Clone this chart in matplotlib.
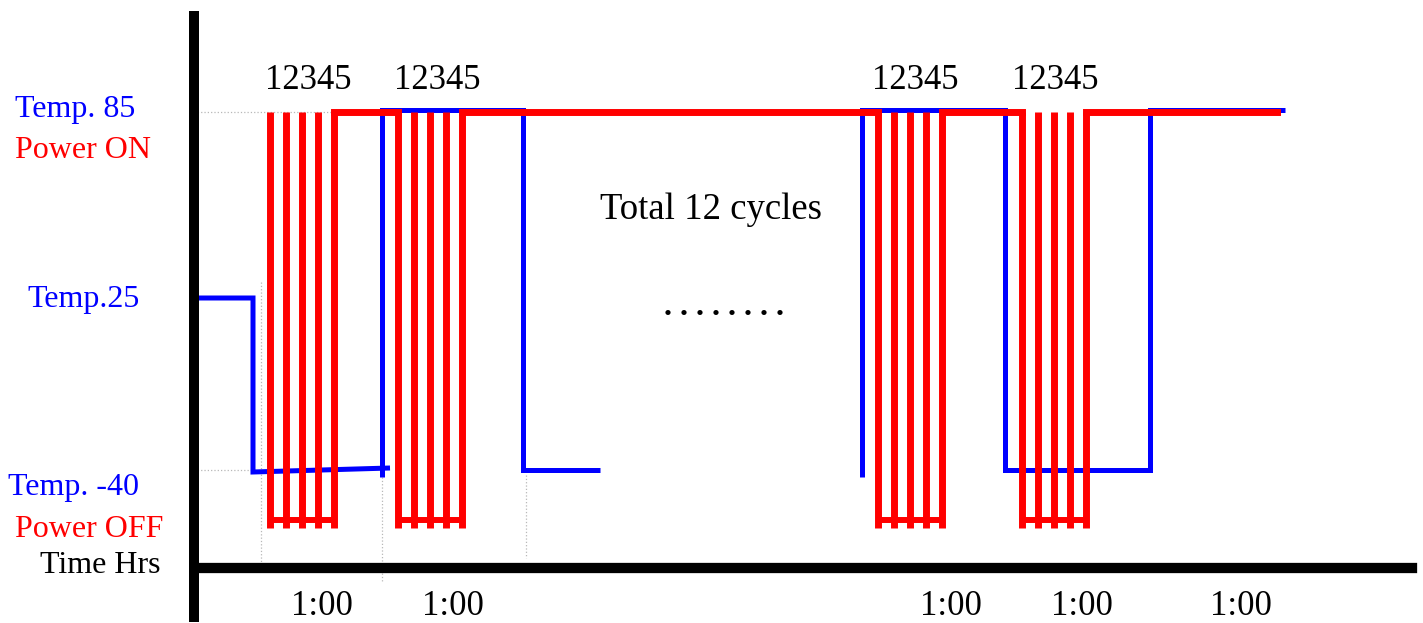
import matplotlib.pyplot as plt

# schematic units: x = time from the y-axis, y = level above the time axis
# blue = chamber temperature, red = power on/off
BLUE_A_X = [0, 59, 59, 196]
BLUE_A_Y = [270, 270, 96, 100]
BLUE_B_X = [188, 188, 329, 329, 406]
BLUE_B_Y = [91, 458, 458, 98, 98]
BLUE_C_X = [668, 668, 811, 811, 956, 956, 1091]
BLUE_C_Y = [91, 458, 458, 98, 98, 458, 458]

PULSES = [
    [76, 92, 108, 124, 140],
    [203.5, 219.5, 235.5, 251.5, 267.5],
    [683.5, 699.5, 715.5, 731.5, 747.5],
    [827.5, 843.5, 859.5, 875.5, 891.5],
]
POWER_ON = 456
POWER_OFF = 48
PULSE_BOTTOM = 40
RED_END = 1083

CYCLE_LABEL_X = [114, 243.5, 721, 861]
HOUR_LABEL_X = [128, 259, 757, 888, 1047]

LEFT_LABELS = [
    ("Temp. 85", -179, 451, "blue"),
    ("Power ON", -179, 410, "red"),
    ("Temp.25", -167, 261, "blue"),
    ("Temp. -40", -186, 73, "blue"),
    ("Power OFF", -179, 31, "red"),
    ("Time Hrs", -154, -5, "black"),
]

# dotted guides: (x0, x1, y0, y1)
GUIDES = [
    (0, 140, 456, 456),
    (0, 58, 98, 98),
    (67, 67, 286, -2),
    (188, 188, 91, -14),
    (332, 332, 93, 10),
]

FONT = ["Liberation Serif", "DejaVu Serif"]

fig = plt.figure(figsize=(14.23, 6.23), dpi=100)
ax = fig.add_axes([0, 0, 1, 1])
ax.set_xlim(-194, 1229)
ax.set_ylim(-55, 568)

for x0, x1, y0, y1 in GUIDES:
    ax.plot([x0, x1], [y0, y1], color="#b8b8b8", lw=0.9, ls=":", zorder=1)

for xs, ys in [(BLUE_A_X, BLUE_A_Y), (BLUE_B_X, BLUE_B_Y), (BLUE_C_X, BLUE_C_Y)]:
    ax.plot(xs, ys, color="#0000ff", lw=3.6, solid_joinstyle="miter",
            solid_capstyle="butt", zorder=2)

for i, group in enumerate(PULSES):
    ax.vlines(group, PULSE_BOTTOM, POWER_ON, color="#ff0000", lw=5, zorder=3)
    ax.hlines(POWER_OFF, group[0], group[-1], color="#ff0000", lw=4.3, zorder=3)
    nxt = PULSES[i + 1][0] if i + 1 < len(PULSES) else RED_END
    ax.hlines(POWER_ON, group[-1], nxt, color="#ff0000", lw=5,
              capstyle="projecting", zorder=3)

ax.spines[["top", "right"]].set_visible(False)
ax.spines["left"].set_position(("data", 0))
ax.spines["bottom"].set_position(("data", 0))
ax.spines["left"].set_bounds(-49, 552)
ax.spines["bottom"].set_bounds(1, 1218)
ax.spines["left"].set_linewidth(7.2)
ax.spines["bottom"].set_linewidth(7.4)
ax.set_xticks([])
ax.set_yticks([])

for x in CYCLE_LABEL_X:
    ax.text(x, 479, "12345", ha="center", va="baseline", fontsize=25, family=FONT)
for x in HOUR_LABEL_X:
    ax.text(x, -47, "1:00", ha="center", va="baseline", fontsize=25, family=FONT)
ax.text(517, 349, "Total 12 cycles", ha="center", va="baseline", fontsize=26.5, family=FONT)
ax.text(530, 253, ". . . . . . . .", ha="center", va="baseline", fontsize=23,
        fontweight="bold", family=FONT)

for label, x, y, c in LEFT_LABELS:
    ax.text(x, y, label, ha="left", va="baseline", fontsize=23, color=c, family=FONT)

plt.savefig("out.png", dpi=100)
plt.close()
